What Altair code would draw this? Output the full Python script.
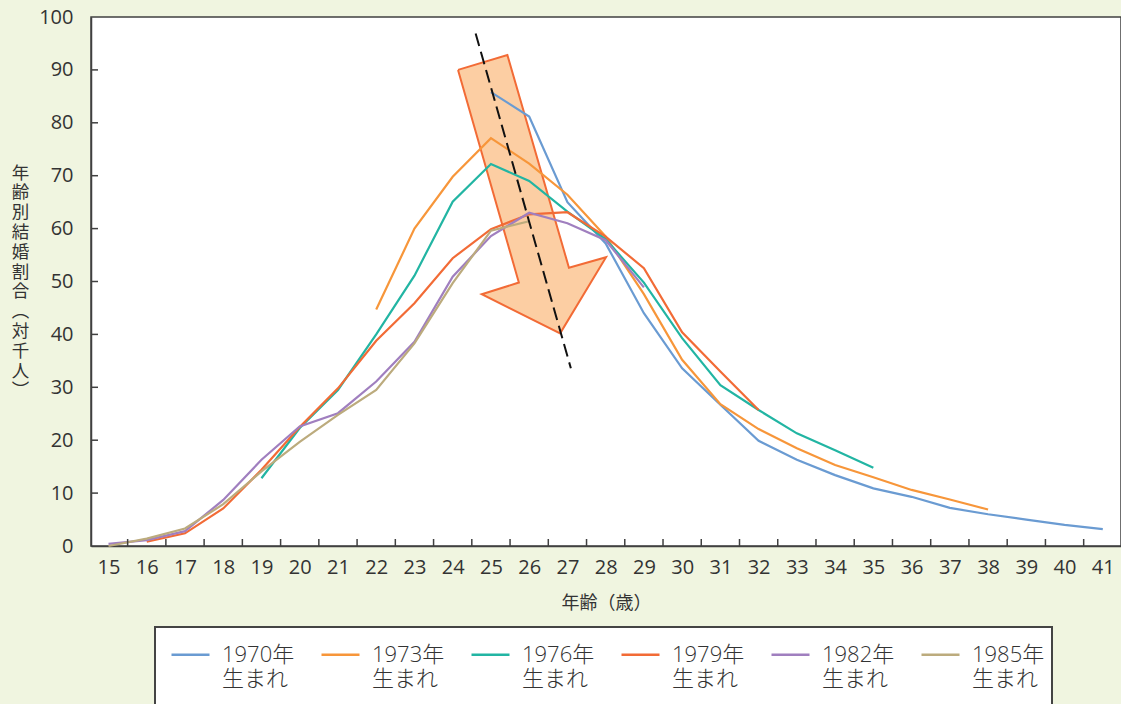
import altair as alt
import pandas as pd

# ---- data ----
series_names = ["1970年生まれ", "1973年生まれ", "1976年生まれ", "1979年生まれ", "1982年生まれ", "1985年生まれ"]
series_colors = ["#6a9bd2", "#f7963a", "#22b5a3", "#f26b36", "#a07fbf", "#bcab7d"]

ages_1970 = [25, 26, 27, 28, 29, 30, 31, 32, 33, 34, 35, 36, 37, 38, 39, 40, 41]
vals_1970 = [85.8, 81.2, 65.0, 57.2, 44.0, 33.6, 26.7, 19.9, 16.3, 13.4, 10.9, 9.3, 7.2, 6.0, 5.0, 4.0, 3.2]

ages_1973 = [22, 23, 24, 25, 26, 27, 28, 29, 30, 31, 32, 33, 34, 35, 36, 37, 38]
vals_1973 = [44.7, 60.0, 69.8, 77.1, 72.3, 66.4, 58.5, 47.6, 35.2, 26.8, 22.1, 18.5, 15.3, 13.0, 10.6, 8.8, 6.9]

ages_1976 = [19, 20, 21, 22, 23, 24, 25, 26, 27, 28, 29, 30, 31, 32, 33, 34, 35]
vals_1976 = [12.8, 22.3, 29.5, 40.0, 51.1, 65.1, 72.2, 69.0, 63.2, 58.0, 49.8, 39.3, 30.4, 25.7, 21.3, 18.1, 14.8]

ages_1979 = [16, 17, 18, 19, 20, 21, 22, 23, 24, 25, 26, 27, 28, 29, 30, 31, 32]
vals_1979 = [0.8, 2.4, 7.1, 14.4, 22.5, 29.8, 38.8, 45.9, 54.4, 59.9, 62.7, 63.1, 58.5, 52.5, 40.4, 33.0, 25.7]

ages_1982 = [15, 16, 17, 18, 19, 20, 21, 22, 23, 24, 25, 26, 27, 28, 29]
vals_1982 = [0.4, 1.1, 2.8, 8.7, 16.3, 22.6, 25.1, 31.1, 38.6, 50.9, 58.6, 63.0, 61.0, 57.8, 48.9]

ages_1985 = [15, 16, 17, 18, 19, 20, 21, 22, 23, 24, 25, 26]
vals_1985 = [0.0, 1.4, 3.3, 7.9, 14.1, 19.7, 24.8, 29.5, 38.3, 49.7, 59.6, 61.4]

# annotation: fat arrow outline and dashed trend line (data coordinates)
arrow_age = [24.14, 25.43, 27.04, 28.01, 26.81, 24.76, 25.73, 24.14]
arrow_val = [90.0, 92.8, 52.6, 54.6, 40.2, 47.6, 49.8, 90.0]
trend_age = [24.60, 27.09]
trend_val = [96.9, 33.6]

x_labels = [15, 16, 17, 18, 19, 20, 21, 22, 23, 24, 25, 26, 27, 28, 29, 30,
            31, 32, 33, 34, 35, 36, 37, 38, 39, 40, 41]
x_tick_marks = [15.5, 16.5, 17.5, 18.5, 19.5, 20.5, 21.5, 22.5, 23.5, 24.5, 25.5,
                26.5, 27.5, 28.5, 29.5, 30.5, 31.5, 32.5, 33.5, 34.5, 35.5, 36.5,
                37.5, 38.5, 39.5, 40.5]
y_labels = [0, 10, 20, 30, 40, 50, 60, 70, 80, 90, 100]
y_tick_marks = [10, 20, 30, 40, 50, 60, 70, 80, 90]

y_title = ["年", "齢", "別", "結", "婚", "割", "合", "︵", "対", "千", "人", "︶"]

# ---- tables ----
rows = []
for name, ages, vals in zip(series_names,
                            [ages_1970, ages_1973, ages_1976, ages_1979, ages_1982, ages_1985],
                            [vals_1970, vals_1973, vals_1976, vals_1979, vals_1982, vals_1985]):
    for a, v in zip(ages, vals):
        rows.append({"series": name, "age": a, "value": v})
df = pd.DataFrame(rows)
arrow_df = pd.DataFrame({"age": arrow_age, "value": arrow_val, "k": list(range(len(arrow_age)))})
trend_df = pd.DataFrame({"age": trend_age, "value": trend_val})
xt_df = pd.DataFrame({"pos": x_tick_marks})
yt_df = pd.DataFrame({"pos": y_tick_marks})

W, H = 1030, 529
LATIN = "Open Sans, Noto Sans CJK JP"
CJK = "Noto Sans CJK JP"

x_scale = alt.Scale(domain=[14.542, 41.476], nice=False, zero=False)
y_scale = alt.Scale(domain=[0, 100], nice=False)

x_axis = alt.Axis(values=x_labels, format="d", grid=False, ticks=False,
                  labelFont=LATIN, labelFontSize=20, labelColor="#333333", labelPadding=11,
                  labelOverlap=False, labelBound=False, labelFlush=False,
                  title="年齢（歳）", titleFont=CJK, titleFontSize=18, titleFontWeight="normal",
                  titleColor="#333333", titleX=515, titleY=57, titleBaseline="middle",
                  titleAlign="center", domainColor="#404040", domainWidth=1.5)
y_axis = alt.Axis(values=y_labels, grid=False, ticks=False,
                  labelFont=LATIN, labelFontSize=20, labelColor="#333333", labelPadding=18,
                  labelOverlap=False,
                  title=y_title, titleFont=CJK, titleFontSize=17.5, titleFontWeight="normal",
                  titleColor="#333333", titleAngle=0, titleX=-71, titleY=147,
                  titleBaseline="top", titleAlign="center", titleLineHeight=19.8,
                  domainColor="#404040", domainWidth=1.5)

legend = alt.Legend(
    title=None, orient="none", legendX=64, legendY=610, direction="horizontal", columns=6,
    symbolType="stroke", symbolSize=1444, symbolStrokeWidth=2.5, symbolOffset=8,
    labelFont=LATIN, labelFontSize=22, labelFontWeight=300, labelColor="#333333",
    labelExpr="[substring(datum.label, 0, 5), substring(datum.label, 5), '']",
    labelBaseline="middle", labelOffset=11, labelLimit=300, columnPadding=17,
    padding=7, strokeColor="#444444", fillColor="white",
)

X = alt.X("age:Q", scale=x_scale, axis=x_axis)
Y = alt.Y("value:Q", scale=y_scale, axis=y_axis)

arrow = alt.Chart(arrow_df).mark_line(
    fill="#fccea3", stroke="#f26b36", strokeWidth=2, strokeJoin="miter"
).encode(x=X, y=Y, order="k:Q")

lines = alt.Chart(df).mark_line(strokeWidth=2.2).encode(
    x=X, y=Y,
    color=alt.Color("series:N", scale=alt.Scale(domain=series_names, range=series_colors),
                    legend=legend),
)

trend = alt.Chart(trend_df).mark_line(color="#111111", strokeWidth=2, strokeDash=[13, 6]).encode(
    x=X, y=Y,
)

xticks = alt.Chart(xt_df).mark_rule(color="#404040", strokeWidth=1.5).encode(
    x=alt.X("pos:Q", scale=x_scale, axis=x_axis),
    y=alt.value(H - 7),
    y2=alt.value(H),
)
yticks = alt.Chart(yt_df).mark_rule(color="#404040", strokeWidth=1.5).encode(
    y=alt.Y("pos:Q", scale=y_scale, axis=y_axis),
    x=alt.value(0),
    x2=alt.value(7),
)

chart = alt.layer(arrow, lines, trend, xticks, yticks).properties(
    width=W, height=H,
    padding={"left": 91, "top": 17, "right": 0, "bottom": 158},
    autosize=alt.AutoSizeParams(type="none"),
    background="#f0f5e0",
).configure_view(
    fill="white", stroke="#404040", strokeWidth=1.5,
).configure_axis(
    labelOverlap=False,
).configure_legend(
    strokeWidth=2,
)

chart.save("out.html", embed_options={"renderer": "svg", "actions": False})
